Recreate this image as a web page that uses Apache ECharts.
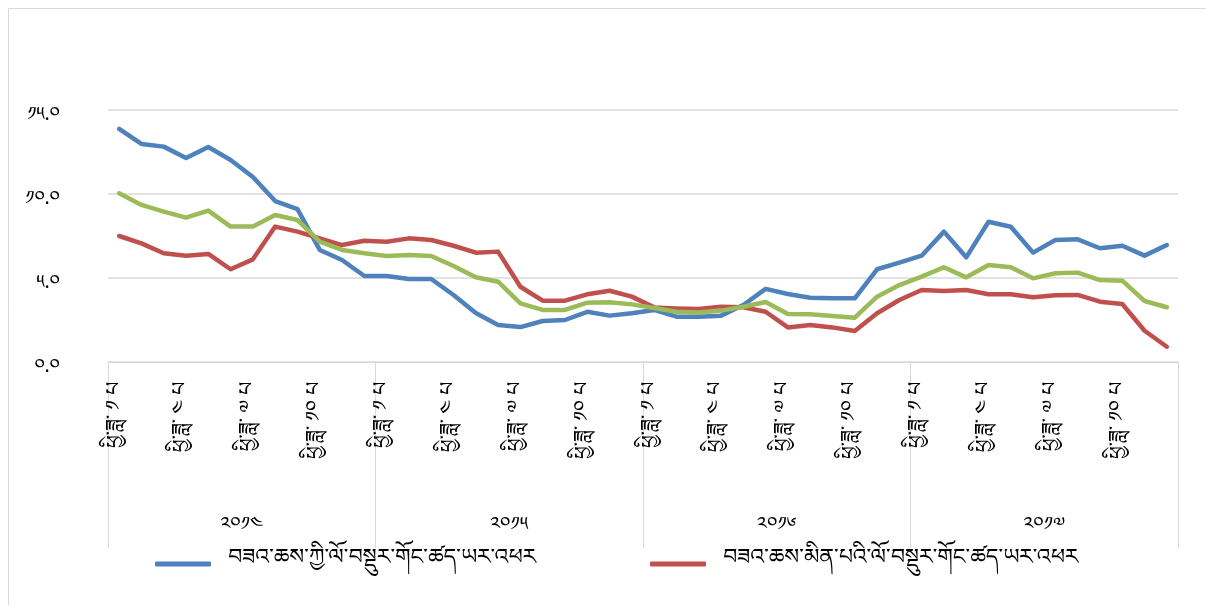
<!DOCTYPE html>
<html>
<head>
<meta charset="utf-8">
<script src="https://cdn.jsdelivr.net/npm/echarts@6/dist/echarts.min.js"></script>
<style>
html,body{margin:0;padding:0;background:#fff;}
#chart{width:1206px;height:605px;}
</style>
</head>
<body>
<div id="chart"></div>
<script>
// ---- data ----
const years = ['༢༠༡༤', '༢༠༡༥', '༢༠༡༦', '༢༠༡༧'];
const monthNames = ['ཕྱི་ཟླ་ ༡ པ','ཕྱི་ཟླ་ ༢ པ','ཕྱི་ཟླ་ ༣ པ','ཕྱི་ཟླ་ ༤ པ','ཕྱི་ཟླ་ ༥ པ','ཕྱི་ཟླ་ ༦ པ',
                    'ཕྱི་ཟླ་ ༧ པ','ཕྱི་ཟླ་ ༨ པ','ཕྱི་ཟླ་ ༩ པ','ཕྱི་ཟླ་ ༡༠ པ','ཕྱི་ཟླ་ ༡༡ པ','ཕྱི་ཟླ་ ༡༢ པ'];
const yTickLabels = ['༠.༠', '༥.༠', '༡༠.༠', '༡༥.༠'];

const foodName = 'བཟའ་ཆས་ཀྱི་ལོ་བསྡུར་གོང་ཚད་ཡར་འཕར';
const nonFoodName = 'བཟའ་ཆས་མིན་པའི་ལོ་བསྡུར་གོང་ཚད་ཡར་འཕར';
const totalName = 'ཁྱོན་བསྡོམས་ལོ་བསྡུར་གོང་ཚད་ཡར་འཕར';

const foodValues = [
  13.87, 12.98, 12.82, 12.14, 12.80, 12.02, 11.01, 9.58, 9.10, 6.67, 6.07, 5.12,
  5.12, 4.94, 4.94, 3.99, 2.92, 2.20, 2.08, 2.44, 2.50, 2.99, 2.76, 2.90,
  3.10, 2.70, 2.70, 2.76, 3.39, 4.35, 4.05, 3.83, 3.79, 3.79, 5.52, 5.91,
  6.33, 7.76, 6.23, 8.35, 8.05, 6.51, 7.26, 7.30, 6.77, 6.92, 6.33, 6.96
];
const nonFoodValues = [
  7.50, 7.06, 6.47, 6.33, 6.43, 5.52, 6.11, 8.06, 7.76, 7.36, 6.96, 7.22,
  7.16, 7.36, 7.26, 6.92, 6.51, 6.57, 4.48, 3.65, 3.65, 4.03, 4.24, 3.89,
  3.25, 3.19, 3.15, 3.29, 3.26, 2.99, 2.06, 2.20, 2.06, 1.85, 2.90, 3.69,
  4.29, 4.23, 4.29, 4.03, 4.03, 3.85, 3.97, 3.99, 3.59, 3.45, 1.86, 0.91
];
const totalValues = [
  10.04, 9.35, 8.95, 8.59, 9.01, 8.06, 8.06, 8.75, 8.45, 7.16, 6.67, 6.47,
  6.31, 6.37, 6.31, 5.71, 5.04, 4.78, 3.49, 3.10, 3.10, 3.53, 3.55, 3.43,
  3.22, 2.99, 2.94, 3.06, 3.29, 3.57, 2.86, 2.84, 2.74, 2.64, 3.89, 4.58,
  5.08, 5.64, 5.04, 5.77, 5.64, 4.98, 5.28, 5.32, 4.88, 4.84, 3.63, 3.26
];

// ---- build ----
const categories = [];
years.forEach(y => monthNames.forEach(m => categories.push(m)));

const tibFont = '"Microsoft Himalaya","Noto Serif Tibetan","Noto Sans Tibetan","Jomolhari","DejaVu Sans",sans-serif';
const gridColor = '#d9d9d9';

const chart = echarts.init(document.getElementById('chart'), null, {renderer: 'canvas'});
chart.setOption({
  backgroundColor: '#ffffff',
  animation: false,
  graphic: [{
    type: 'rect',
    shape: {x: 8.5, y: 8.5, width: 1200, height: 600},
    style: {fill: 'none', stroke: gridColor, lineWidth: 1},
    silent: true
  }],
  grid: {left: 108, right: 28, top: 110, bottom: 243, containLabel: false},
  legend: [{
    data: [foodName],
    left: 150, top: 548,
    icon: 'roundRect', itemWidth: 56, itemHeight: 5,
    textStyle: {fontFamily: tibFont, fontSize: 22, color: '#000', padding: [0, 0, 0, 12]}
  }, {
    data: [nonFoodName],
    left: 645, top: 548,
    icon: 'roundRect', itemWidth: 56, itemHeight: 5,
    textStyle: {fontFamily: tibFont, fontSize: 22, color: '#000', padding: [0, 0, 0, 12]}
  }],
  xAxis: [{
    type: 'category',
    data: categories,
    boundaryGap: true,
    position: 'bottom',
    axisLine: {show: true, lineStyle: {color: gridColor, width: 1}},
    axisTick: {show: false},
    axisLabel: {
      interval: 2, rotate: 90, margin: 20,
      fontFamily: tibFont, fontSize: 20, color: '#000'
    },
    splitLine: {show: false}
  }, {
    type: 'category',
    data: years,
    boundaryGap: true,
    position: 'bottom',
    axisLine: {show: false},
    axisTick: {show: true, interval: 0, length: 186, lineStyle: {color: gridColor, width: 1}},
    axisLabel: {interval: 0, margin: 158, fontFamily: tibFont, fontSize: 19, color: '#000'},
    splitLine: {show: false}
  }],
  yAxis: {
    type: 'value',
    min: 0, max: 15, interval: 5,
    axisLine: {show: false},
    axisTick: {show: false},
    axisLabel: {
      margin: 48,
      fontFamily: tibFont, fontSize: 19, color: '#000',
      verticalAlign: 'top',
      formatter: v => yTickLabels[Math.round(v / 5)]
    },
    splitLine: {show: true, lineStyle: {color: gridColor, width: 1.5}}
  },
  series: [{
    name: foodName, type: 'line', data: foodValues,
    showSymbol: false, symbol: 'none',
    lineStyle: {color: '#4f81bd', width: 4.5, cap: 'round', join: 'round'},
    itemStyle: {color: '#4f81bd'}
  }, {
    name: nonFoodName, type: 'line', data: nonFoodValues,
    showSymbol: false, symbol: 'none',
    lineStyle: {color: '#c0504d', width: 4.5, cap: 'round', join: 'round'},
    itemStyle: {color: '#c0504d'}
  }, {
    name: totalName, type: 'line', data: totalValues,
    showSymbol: false, symbol: 'none',
    lineStyle: {color: '#9bbb59', width: 4.5, cap: 'round', join: 'round'},
    itemStyle: {color: '#9bbb59'}
  }]
});
</script>
</body>
</html>
